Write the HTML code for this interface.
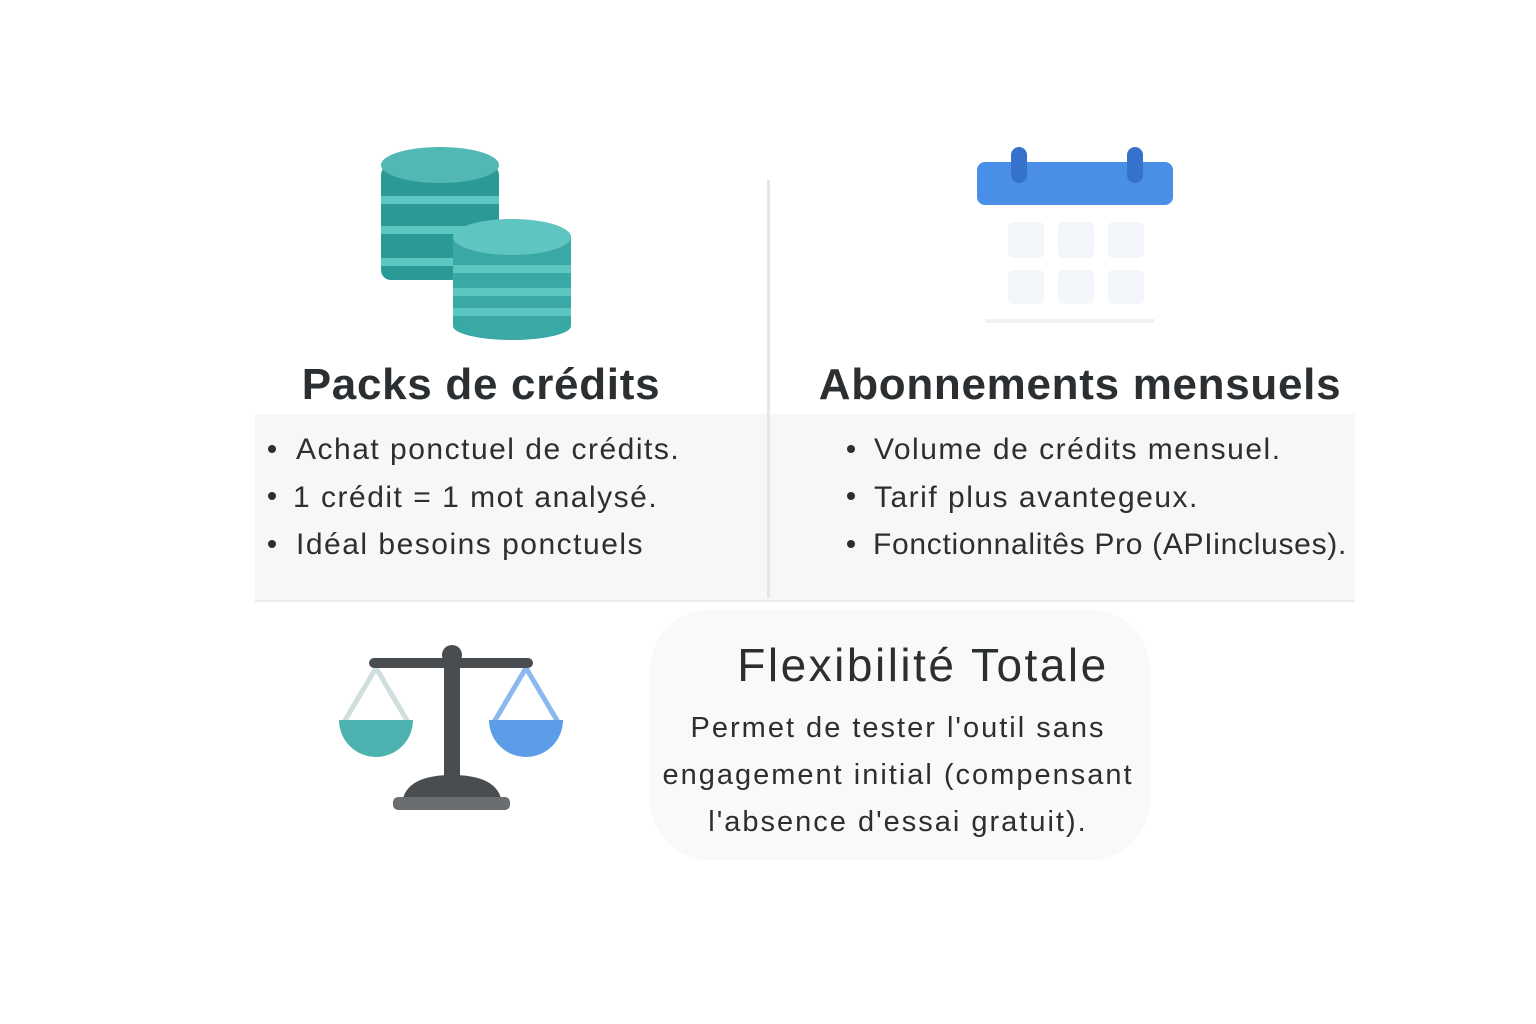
<!DOCTYPE html>
<html><head><meta charset="utf-8"><style>
body{margin:0;width:1536px;height:1024px;background:#fff;position:relative;overflow:hidden;font-family:"Liberation Sans",sans-serif;color:#2b2f31}
.a{position:absolute;white-space:nowrap}
.t{font-weight:bold;font-size:44px;transform:translateX(-50%);letter-spacing:0.7px}
.b{font-size:30px;letter-spacing:1.5px}
.dot{position:absolute;width:8px;height:8px;border-radius:50%;background:#2b2f31}
</style></head><body>
<div class="a" style="left:255px;top:414px;width:1100px;height:186px;background:#f7f7f6;border-bottom:2px solid #ececea"></div>
<div class="a" style="left:767px;top:180px;width:3px;height:418px;background:#e6e6e4"></div>
<div class="a" style="left:650px;top:610px;width:500px;height:250px;background:#f9f9f8;border-radius:60px"></div>

<svg class="a" style="left:370px;top:140px" width="210" height="210" viewBox="370 140 210 210">
<g fill="#2b9a96"><rect x="381" y="165" width="118" height="115" rx="10"/></g>
<ellipse cx="440" cy="165" rx="59" ry="18" fill="#52b8b3"/>
<g fill="#5cc6c1"><rect x="381" y="196" width="118" height="8"/><rect x="381" y="226" width="118" height="8"/><rect x="381" y="258" width="118" height="8"/></g>
<rect x="453" y="236" width="118" height="90" fill="#3aa8a4"/>
<ellipse cx="512" cy="326" rx="59" ry="14" fill="#3aa8a4"/>
<ellipse cx="512" cy="237" rx="59" ry="18" fill="#5ec5c1"/>
<g fill="#5cc6c1"><rect x="453" y="265" width="118" height="8"/><rect x="453" y="288" width="118" height="8"/><rect x="453" y="308" width="118" height="8"/></g>
</svg>

<svg class="a" style="left:970px;top:140px" width="210" height="190" viewBox="970 140 210 190">
<rect x="977" y="162" width="196" height="43" rx="8" fill="#4a8fe7"/>
<rect x="1011" y="147" width="16" height="36" rx="8" fill="#3572cc"/>
<rect x="1127" y="147" width="16" height="36" rx="8" fill="#3572cc"/>
<g fill="#f3f6fa"><rect x="1008" y="222" width="36" height="36" rx="5"/><rect x="1058" y="222" width="36" height="36" rx="5"/><rect x="1108" y="222" width="36" height="36" rx="5"/><rect x="1008" y="270" width="36" height="34" rx="5"/><rect x="1058" y="270" width="36" height="34" rx="5"/><rect x="1108" y="270" width="36" height="34" rx="5"/></g>
<rect x="985" y="319" width="170" height="4" fill="#f2f2f2"/>
</svg>

<div class="a t" style="left:481px;top:360px">Packs de crédits</div>
<div class="a t" style="left:1080px;top:360px">Abonnements mensuels</div>

<div class="dot" style="left:268px;top:445px"></div><div class="a b" style="left:296px;top:433px">Achat ponctuel de crédits.</div>
<div class="dot" style="left:268px;top:492px"></div><div class="a b" style="left:293px;top:481px">1 crédit = 1 mot analysé.</div>
<div class="dot" style="left:268px;top:540px"></div><div class="a b" style="left:296px;top:528px">Idéal besoins ponctuels</div>
<div class="dot" style="left:847px;top:445px"></div><div class="a b" style="left:874px;top:433px">Volume de crédits mensuel.</div>
<div class="dot" style="left:847px;top:492px"></div><div class="a b" style="left:874px;top:481px">Tarif plus avantegeux.</div>
<div class="dot" style="left:847px;top:540px"></div><div class="a b" style="left:873px;top:528px;letter-spacing:0.7px">Fonctionnalitês Pro (APIincluses).</div>

<svg class="a" style="left:330px;top:640px" width="250" height="180" viewBox="330 640 250 180">
<line x1="376" y1="668" x2="344" y2="722" stroke="#cfdede" stroke-width="5"/>
<line x1="376" y1="668" x2="408" y2="722" stroke="#cfdede" stroke-width="5"/>
<line x1="526" y1="668" x2="494" y2="722" stroke="#8bb9ef" stroke-width="5"/>
<line x1="526" y1="668" x2="558" y2="722" stroke="#8bb9ef" stroke-width="5"/>
<path d="M339 720 H413 A37 37 0 0 1 339 720Z" fill="#4db3b0"/>
<path d="M489 720 H563 A37 37 0 0 1 489 720Z" fill="#5b9de6"/>
<rect x="369" y="658" width="164" height="10" rx="5" fill="#4a4d50"/>
<rect x="444" y="655" width="16" height="130" fill="#4a4d50"/>
<circle cx="452" cy="655" r="10" fill="#4a4d50"/>
<path d="M403 798 Q410 775 452 775 Q494 775 501 798Z" fill="#4a4d50"/>
<rect x="393" y="797" width="117" height="13" rx="5" fill="#6b6e70"/>
</svg>

<div class="a" style="left:923px;top:638px;font-size:46px;letter-spacing:2.5px;transform:translateX(-50%)">Flexibilité Totale</div>
<div class="a" style="left:898px;top:705px;font-size:29px;line-height:47px;letter-spacing:2px;text-align:center;transform:translateX(-50%)">Permet de tester l'outil sans<br>engagement initial (compensant<br>l'absence d'essai gratuit).</div>
</body></html>
